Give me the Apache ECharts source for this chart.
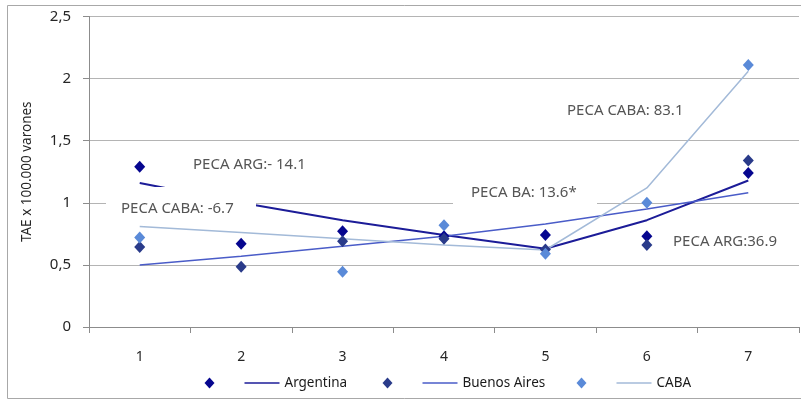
<!DOCTYPE html>
<html>
<head>
<meta charset="utf-8">
<script src="https://cdn.jsdelivr.net/npm/echarts@6/dist/echarts.min.js"></script>
<style>
  html, body { margin: 0; padding: 0; background: #ffffff; }
  #chart { width: 801px; height: 401px; }
</style>
</head>
<body>
<div id="chart"></div>
<script>
// Periods on the x axis
const categories = ['1', '2', '3', '4', '5', '6', '7'];
const yTicks = [0, 0.5, 1, 1.5, 2, 2.5];

// Observed rates (TAE x 100.000 varones)
const argentinaRates = [1.29, 0.67, 0.77, 0.73, 0.74, 0.73, 1.24];
const buenosAiresRates = [0.645, 0.485, 0.69, 0.71, 0.625, 0.66, 1.34];
const cabaRates = [0.72, null, 0.445, 0.82, 0.59, 1.00, 2.11];

// Fitted joinpoint trends
const argentinaTrend = [1.16, 1.00, 0.86, 0.74, 0.63, 0.86, 1.18];
const buenosAiresTrend = [0.50, 0.57, 0.65, 0.73, 0.83, 0.95, 1.08];
const cabaTrend = [0.81, 0.76, 0.71, 0.66, 0.62, 1.12, 2.06];

const seriesNames = ['Argentina', 'Buenos Aires', 'CABA'];
const pointColors = ['#06068f', '#2a3b8a', '#5a8ad8'];
const lineColors = ['#1c1c98', '#4a5cc8', '#a3bad8'];
const lineWidths = [2, 1.5, 1.5];

const pecaLabels = ['PECA ARG:- 14.1', 'PECA CABA: -6.7', 'PECA BA: 13.6*', 'PECA CABA: 83.1', 'PECA ARG:36.9'];

const rates = [argentinaRates, buenosAiresRates, cabaRates];
const trends = [argentinaTrend, buenosAiresTrend, cabaTrend];

const pointName = n => n + ' (tasa)';
const diamondIcon = 'path://M5 0L10 5.5L5 11L0 5.5Z';
const lineIcon = 'path://M0 0H35V1.6H0Z';

const series = [];
seriesNames.forEach((n, i) => {
  series.push({
    name: n,
    type: 'line',
    data: trends[i],
    symbol: 'none',
    color: lineColors[i],
    lineStyle: { color: lineColors[i], width: lineWidths[i] },
    z: 2,
    animation: false
  });
});
seriesNames.forEach((n, i) => {
  series.push({
    name: pointName(n),
    type: 'scatter',
    data: rates[i],
    symbol: 'diamond',
    symbolSize: [11, 12],
    color: pointColors[i],
    itemStyle: { color: pointColors[i], opacity: 1 },
    z: 3,
    animation: false
  });
});

const legendLefts = [187, 365, 559];
const legends = seriesNames.map((n, i) => ({
  left: legendLefts[i],
  top: 371,
  itemWidth: 35,
  itemHeight: 11,
  itemGap: 30,
  selectedMode: false,
  textStyle: { fontFamily: 'Noto Sans', fontSize: 13.5, color: '#1a1a1a' },
  formatter: name => (seriesNames.indexOf(name) >= 0 ? name : ''),
  data: [
    { name: pointName(n), icon: diamondIcon, itemStyle: { opacity: 1 } },
    { name: n, icon: lineIcon }
  ]
}));

// Annotation boxes: [text, boxX, boxY, boxW, boxH, textX, textY]
const notePlacement = [
  [pecaLabels[0], 180, 150, 140, 30, 193, 165],
  [pecaLabels[1], 106, 187, 150, 35, 121, 209],
  [pecaLabels[2], 453, 178, 144, 30, 471, 193],
  [pecaLabels[3], 554, 96, 146, 30, 567, 111],
  [pecaLabels[4], 660, 228, 135, 30, 673, 242]
];
const graphics = [
  {
    type: 'rect',
    shape: { x: 7.5, y: 5.5, width: 800, height: 393 },
    style: { fill: 'none', stroke: '#a8a8a8', lineWidth: 1 },
    z: 1,
    silent: true
  }
];
notePlacement.forEach(p => {
  graphics.push({
    type: 'rect',
    shape: { x: p[1], y: p[2], width: p[3], height: p[4] },
    style: { fill: '#ffffff' },
    z: 50,
    silent: true
  });
  graphics.push({
    type: 'text',
    x: p[5],
    y: p[6],
    style: {
      text: p[0],
      fill: '#555555',
      font: '15px "Noto Sans"',
      textVerticalAlign: 'middle',
      shadowColor: 'rgba(0,0,0,0.25)',
      shadowBlur: 2,
      shadowOffsetX: 1,
      shadowOffsetY: 1
    },
    z: 51,
    silent: true
  });
});

const chart = echarts.init(document.getElementById('chart'), null, { renderer: 'canvas' });
chart.setOption({
  animation: false,
  backgroundColor: '#ffffff',
  grid: { left: 89, top: 16.5, right: 2, bottom: 74, containLabel: false },
  legend: legends,
  xAxis: {
    type: 'category',
    data: categories,
    boundaryGap: true,
    axisLine: { lineStyle: { color: '#8c8c8c', width: 1 } },
    axisTick: { show: true, length: 6, lineStyle: { color: '#8c8c8c' } },
    axisLabel: { margin: 23, fontFamily: 'Noto Sans', fontSize: 14, color: '#262626' },
    splitLine: { show: false }
  },
  yAxis: {
    type: 'value',
    min: yTicks[0],
    max: yTicks[yTicks.length - 1],
    interval: 0.5,
    name: 'TAE x 100.000 varones',
    nameLocation: 'middle',
    nameGap: 55,
    nameTextStyle: { fontFamily: 'Noto Sans', fontSize: 13.5, color: '#262626' },
    axisLine: { show: true, lineStyle: { color: '#8c8c8c', width: 1 } },
    axisTick: { show: true, length: 6, lineStyle: { color: '#8c8c8c' } },
    axisLabel: {
      margin: 18,
      fontFamily: 'Noto Sans',
      fontSize: 15,
      color: '#262626',
      formatter: v => String(v).replace('.', ',')
    },
    splitLine: { show: true, lineStyle: { color: '#b4b4b4', width: 1 } }
  },
  series: series,
  graphic: graphics
});
</script>
</body>
</html>
